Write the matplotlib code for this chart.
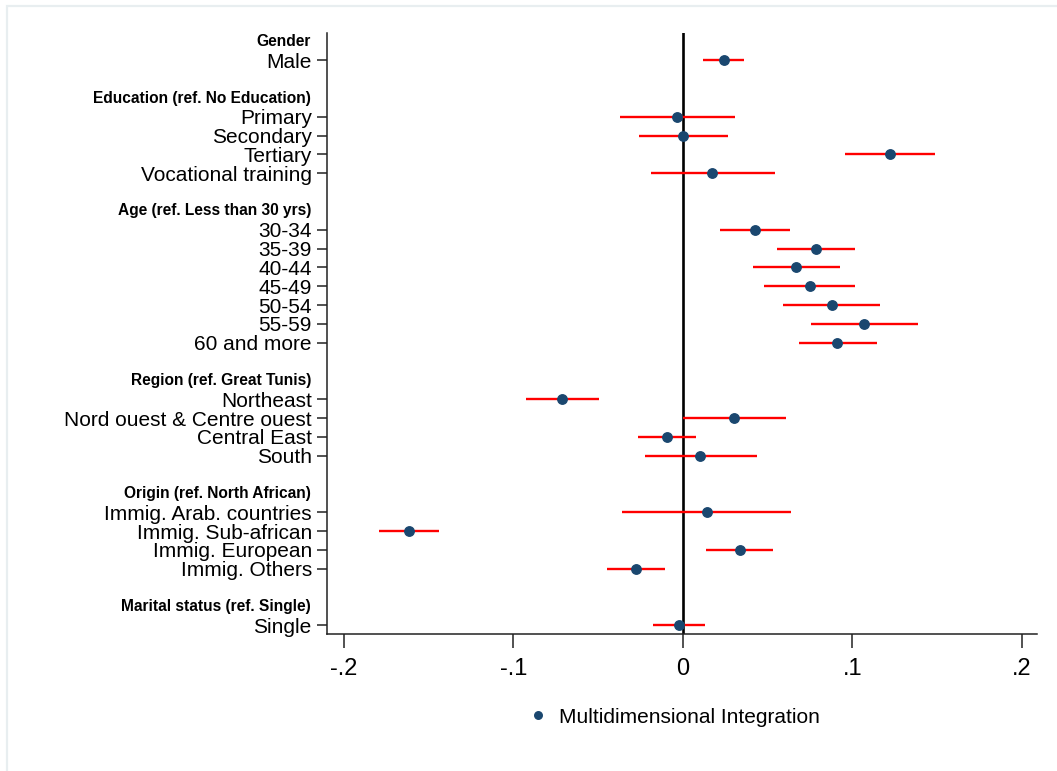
import matplotlib
matplotlib.use("Agg")
import matplotlib.pyplot as plt
from matplotlib.patches import Rectangle

plt.rcParams['font.family'] = ['Liberation Sans', 'DejaVu Sans']

# groups of covariates, top to bottom
headers = ["Gender", "Education (ref. No Education)", "Age (ref. Less than 30 yrs)",
           "Region (ref. Great Tunis)", "Origin (ref. North African)",
           "Marital status (ref. Single)"]
labels = [
    ["Male"],
    ["Primary", "Secondary", "Tertiary", "Vocational training"],
    ["30-34", "35-39", "40-44", "45-49", "50-54", "55-59", "60 and more"],
    ["Northeast", "Nord ouest & Centre ouest", "Central East", "South"],
    ["Immig. Arab. countries", "Immig. Sub-african", "Immig. European", "Immig. Others"],
    ["Single"],
]
coef = [
    [0.0242],
    [-0.0034, 0.0004, 0.1221, 0.0175],
    [0.0425, 0.0785, 0.0671, 0.0750, 0.0880, 0.1070, 0.0913],
    [-0.0712, 0.0301, -0.0093, 0.0104],
    [0.0142, -0.1618, 0.0336, -0.0277],
    [-0.0020],
]
ci_lo = [
    [0.0122],
    [-0.0370, -0.0258, 0.0960, -0.0187],
    [0.0220, 0.0555, 0.0415, 0.0480, 0.0594, 0.0757, 0.0686],
    [-0.0922, -0.0001, -0.0264, -0.0224],
    [-0.0356, -0.1791, 0.0140, -0.0447],
    [-0.0175],
]
ci_hi = [
    [0.0364],
    [0.0307, 0.0267, 0.1487, 0.0543],
    [0.0633, 0.1019, 0.0926, 0.1019, 0.1164, 0.1386, 0.1145],
    [-0.0497, 0.0608, 0.0078, 0.0437],
    [0.0641, -0.1441, 0.0535, -0.0104],
    [0.0132],
]

xticks = [-0.2, -0.1, 0, 0.1, 0.2]
xticklabels = ["-.2", "-.1", "0", ".1", ".2"]
series_name = "Multidimensional Integration"

fig = plt.figure(figsize=(10.57, 7.71), dpi=100)
ax = fig.add_axes([0.3094, 0.1777, 0.6716, 0.7799])

# light frame of the graph region (only top/left visible in the crop)
fig.patches.append(Rectangle((0.0066, -0.2), 1.2, 0.9922 + 0.2, transform=fig.transFigure,
                             fill=False, edgecolor='#e8eef0', lw=1.6, zorder=0))

ytick_pos, ytick_lab = [], []
xs, ys, los, his = [], [], [], []
row = 0
for h, labs, c, l, u in zip(headers, labels, coef, ci_lo, ci_hi):
    ax.text(-0.0225, row, h, transform=ax.get_yaxis_transform(), ha='right', va='center',
            fontsize=11.2, fontweight='bold')
    row += 1
    for lab, ci, li, ui in zip(labs, c, l, u):
        ytick_pos.append(row)
        ytick_lab.append(lab)
        xs.append(ci); ys.append(row); los.append(li); his.append(ui)
        row += 1
    row += 1

ax.axvline(0, color='black', lw=1.9, zorder=1)
ax.hlines(ys, los, his, color='#ff0000', lw=1.7, zorder=2)
ax.plot(xs, ys, 'o', color='#1a476f', ms=6.8, ls='none', zorder=3, label=series_name)

ax.set_ylim(31.47, -0.47)
ax.set_xlim(-0.2099, 0.209)
ax.set_yticks(ytick_pos)
ax.set_yticklabels(ytick_lab, fontsize=15)
ax.set_xticks(xticks)
ax.set_xticklabels(xticklabels, fontsize=17)
ax.tick_params(axis='y', length=7, width=1.1, pad=4, colors='#222222', labelcolor='black')
ax.tick_params(axis='x', length=10, width=1.1, pad=7, colors='#222222', labelcolor='black')

for s in ['top', 'right']:
    ax.spines[s].set_visible(False)
for s in ['left', 'bottom']:
    ax.spines[s].set_linewidth(1.1)
    ax.spines[s].set_color('#222222')

fig.legend(loc='center', bbox_to_anchor=(0.6386, 0.07), frameon=False, fontsize=15,
           handlelength=0.8, handletextpad=0.6, markerscale=0.8)

fig.savefig("out.png", dpi=100)
